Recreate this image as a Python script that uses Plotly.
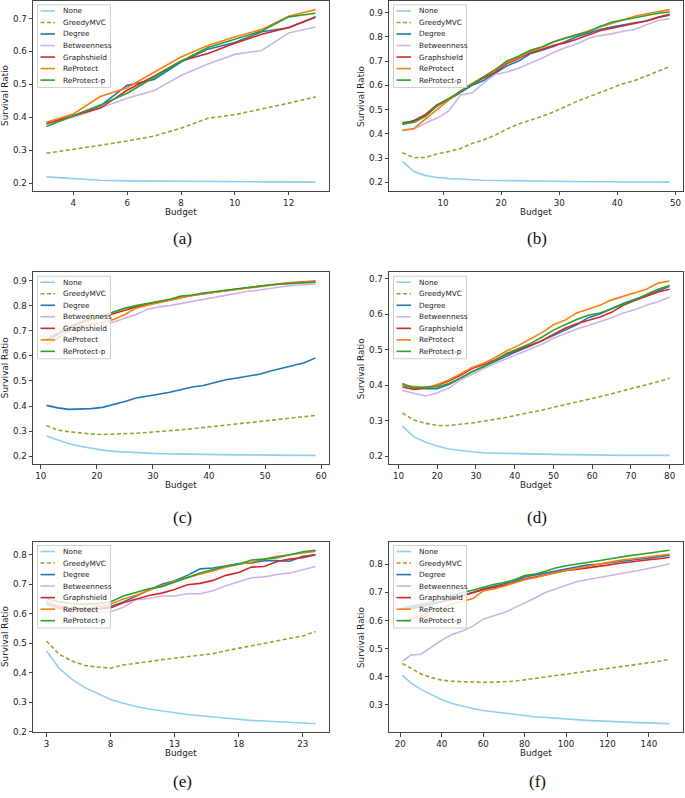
import plotly.graph_objects as go

# ---------------- data ----------------
methods = ["None", "GreedyMVC", "Degree", "Betweenness", "Graphshield", "ReProtect", "ReProtect-p"]

# (a)
budget_a = [3, 4, 5, 6, 7, 8, 9, 10, 11, 12, 13]
a_none = [0.219, 0.214, 0.209, 0.207, 0.206, 0.205, 0.205, 0.204, 0.204, 0.204, 0.203]
a_greedy = [0.291, 0.302, 0.315, 0.328, 0.343, 0.367, 0.397, 0.408, 0.425, 0.443, 0.462]
a_degree = [0.380, 0.405, 0.435, 0.497, 0.515, 0.568, 0.607, 0.627, 0.660, 0.672, 0.705]
a_betw = [0.378, 0.400, 0.428, 0.458, 0.481, 0.527, 0.562, 0.591, 0.603, 0.656, 0.674]
a_gshield = [0.381, 0.405, 0.428, 0.482, 0.525, 0.571, 0.594, 0.625, 0.652, 0.673, 0.704]
a_reprot = [0.385, 0.410, 0.463, 0.490, 0.537, 0.583, 0.618, 0.644, 0.667, 0.707, 0.727]
a_reprotp = [0.372, 0.405, 0.437, 0.473, 0.522, 0.570, 0.612, 0.638, 0.662, 0.705, 0.716]

# (b)
budget_b = [3, 5, 7, 9, 11, 13, 15, 17, 19, 21, 23, 25, 27, 29, 31, 33, 35, 37, 39, 41, 43, 45, 47, 49]
b_none = [0.287, 0.245, 0.228, 0.220, 0.216, 0.213, 0.211, 0.209, 0.208, 0.207, 0.206, 0.205,
          0.205, 0.204, 0.204, 0.204, 0.203, 0.203, 0.203, 0.202, 0.202, 0.202, 0.201, 0.201]
b_greedy = [0.322, 0.302, 0.303, 0.318, 0.327, 0.340, 0.360, 0.375, 0.395, 0.420, 0.440, 0.455,
            0.472, 0.490, 0.512, 0.533, 0.552, 0.570, 0.590, 0.607, 0.620, 0.640, 0.657, 0.677]
b_degree = [0.447, 0.452, 0.477, 0.518, 0.540, 0.570, 0.600, 0.620, 0.650, 0.680, 0.700, 0.730,
            0.745, 0.760, 0.780, 0.800, 0.815, 0.830, 0.840, 0.850, 0.858, 0.865, 0.880, 0.889]
b_betw = [0.413, 0.420, 0.445, 0.465, 0.495, 0.560, 0.568, 0.610, 0.645, 0.655, 0.670, 0.690,
          0.712, 0.735, 0.755, 0.770, 0.793, 0.805, 0.812, 0.823, 0.830, 0.850, 0.867, 0.875]
b_gshield = [0.441, 0.455, 0.480, 0.520, 0.545, 0.575, 0.605, 0.630, 0.655, 0.690, 0.710, 0.735,
             0.748, 0.765, 0.775, 0.790, 0.808, 0.825, 0.835, 0.845, 0.855, 0.865, 0.880, 0.893]
b_reprot = [0.415, 0.422, 0.462, 0.500, 0.540, 0.578, 0.608, 0.635, 0.665, 0.695, 0.715, 0.740,
            0.755, 0.778, 0.795, 0.808, 0.825, 0.840, 0.855, 0.870, 0.885, 0.895, 0.905, 0.912]
b_reprotp = [0.440, 0.448, 0.472, 0.515, 0.545, 0.575, 0.608, 0.638, 0.665, 0.700, 0.720, 0.745,
             0.758, 0.780, 0.795, 0.808, 0.820, 0.842, 0.860, 0.870, 0.880, 0.890, 0.897, 0.902]

# (c)
budget_c = [11, 13, 15, 17, 19, 21, 23, 25, 27, 29, 31, 33, 35, 37, 39, 41, 43, 45, 47, 49, 51, 53, 55, 57, 59]
c_none = [0.281, 0.266, 0.250, 0.240, 0.232, 0.225, 0.220, 0.217, 0.215, 0.213, 0.211, 0.210, 0.209,
          0.208, 0.208, 0.207, 0.207, 0.206, 0.206, 0.205, 0.205, 0.204, 0.204, 0.204, 0.204]
c_greedy = [0.323, 0.305, 0.298, 0.292, 0.289, 0.287, 0.288, 0.289, 0.292, 0.295, 0.298, 0.302, 0.306,
            0.310, 0.315, 0.320, 0.325, 0.330, 0.335, 0.340, 0.345, 0.350, 0.354, 0.358, 0.363]
c_degree = [0.403, 0.393, 0.387, 0.388, 0.390, 0.395, 0.405, 0.418, 0.432, 0.438, 0.447, 0.455, 0.465,
            0.476, 0.482, 0.493, 0.505, 0.512, 0.520, 0.527, 0.540, 0.551, 0.562, 0.573, 0.592]
c_betw = [0.665, 0.690, 0.710, 0.720, 0.725, 0.728, 0.735, 0.750, 0.765, 0.785, 0.795, 0.800, 0.810,
          0.817, 0.825, 0.833, 0.842, 0.850, 0.857, 0.862, 0.870, 0.875, 0.880, 0.882, 0.886]
c_gshield = [0.660, 0.685, 0.710, 0.730, 0.745, 0.755, 0.770, 0.782, 0.795, 0.805, 0.812, 0.822, 0.832,
             0.840, 0.848, 0.853, 0.860, 0.866, 0.872, 0.877, 0.883, 0.888, 0.892, 0.895, 0.898]
c_reprot = [0.645, 0.670, 0.700, 0.715, 0.725, 0.735, 0.745, 0.765, 0.790, 0.802, 0.812, 0.822, 0.830,
            0.840, 0.847, 0.853, 0.860, 0.865, 0.870, 0.875, 0.882, 0.887, 0.890, 0.893, 0.896]
c_reprotp = [0.665, 0.690, 0.715, 0.735, 0.750, 0.760, 0.775, 0.790, 0.800, 0.808, 0.815, 0.825, 0.838,
             0.842, 0.850, 0.856, 0.860, 0.866, 0.872, 0.878, 0.883, 0.886, 0.888, 0.890, 0.893]

# (d)
budget_d = [11, 14, 17, 20, 23, 26, 29, 32, 35, 38, 41, 44, 47, 50, 53, 56, 59, 62, 65, 68, 71, 74, 77, 80]
d_none = [0.285, 0.255, 0.240, 0.229, 0.221, 0.216, 0.213, 0.210, 0.209, 0.208, 0.207, 0.206,
          0.206, 0.205, 0.205, 0.205, 0.204, 0.204, 0.204, 0.203, 0.203, 0.203, 0.203, 0.203]
d_greedy = [0.322, 0.302, 0.293, 0.287, 0.287, 0.290, 0.294, 0.299, 0.304, 0.310, 0.317, 0.323,
            0.330, 0.338, 0.345, 0.352, 0.360, 0.368, 0.376, 0.384, 0.393, 0.402, 0.410, 0.420]
d_degree = [0.400, 0.393, 0.390, 0.390, 0.402, 0.420, 0.438, 0.453, 0.468, 0.482, 0.497, 0.510,
            0.525, 0.540, 0.555, 0.570, 0.590, 0.600, 0.615, 0.630, 0.642, 0.652, 0.665, 0.678]
d_betw = [0.385, 0.378, 0.370, 0.378, 0.392, 0.415, 0.432, 0.447, 0.462, 0.475, 0.488, 0.500,
          0.515, 0.532, 0.545, 0.558, 0.568, 0.578, 0.590, 0.603, 0.612, 0.625, 0.635, 0.648]
d_gshield = [0.395, 0.388, 0.392, 0.400, 0.412, 0.428, 0.447, 0.458, 0.472, 0.488, 0.500, 0.512,
             0.525, 0.543, 0.560, 0.573, 0.583, 0.592, 0.605, 0.625, 0.638, 0.650, 0.662, 0.670]
d_reprot = [0.400, 0.397, 0.393, 0.402, 0.415, 0.432, 0.450, 0.462, 0.478, 0.497, 0.512, 0.530,
            0.548, 0.570, 0.583, 0.603, 0.615, 0.625, 0.640, 0.650, 0.660, 0.670, 0.687, 0.693]
d_reprotp = [0.405, 0.392, 0.395, 0.395, 0.405, 0.420, 0.438, 0.452, 0.470, 0.490, 0.503, 0.517,
             0.535, 0.555, 0.570, 0.585, 0.597, 0.603, 0.615, 0.627, 0.640, 0.655, 0.670, 0.680]

# (e)
budget_e = [3, 4, 5, 6, 7, 8, 9, 10, 11, 12, 13, 14, 15, 16, 17, 18, 19, 20, 21, 22, 23, 24]
e_none = [0.475, 0.415, 0.378, 0.350, 0.330, 0.310, 0.297, 0.286, 0.278, 0.271, 0.265, 0.259, 0.255,
          0.251, 0.247, 0.242, 0.239, 0.237, 0.235, 0.232, 0.231, 0.228]
e_greedy = [0.508, 0.463, 0.440, 0.425, 0.420, 0.416, 0.427, 0.432, 0.438, 0.445, 0.450, 0.456, 0.460,
            0.465, 0.475, 0.483, 0.491, 0.500, 0.508, 0.516, 0.525, 0.540]
e_degree = [0.640, 0.625, 0.618, 0.615, 0.617, 0.625, 0.640, 0.660, 0.680, 0.700, 0.712, 0.730, 0.752,
            0.755, 0.762, 0.770, 0.772, 0.780, 0.780, 0.778, 0.795, 0.800]
e_betw = [0.632, 0.615, 0.608, 0.603, 0.605, 0.607, 0.622, 0.648, 0.652, 0.660, 0.660, 0.668, 0.668,
          0.678, 0.695, 0.708, 0.722, 0.725, 0.733, 0.738, 0.748, 0.760]
e_gshield = [0.632, 0.620, 0.615, 0.613, 0.615, 0.620, 0.637, 0.650, 0.662, 0.670, 0.682, 0.698, 0.703,
             0.713, 0.730, 0.740, 0.758, 0.760, 0.777, 0.785, 0.790, 0.800]
e_reprot = [0.643, 0.625, 0.620, 0.618, 0.625, 0.632, 0.650, 0.663, 0.680, 0.695, 0.710, 0.722, 0.735,
            0.745, 0.758, 0.768, 0.775, 0.785, 0.795, 0.800, 0.807, 0.812]
e_reprotp = [0.652, 0.640, 0.635, 0.632, 0.635, 0.640, 0.660, 0.672, 0.685, 0.692, 0.708, 0.723, 0.738,
             0.750, 0.762, 0.768, 0.782, 0.785, 0.790, 0.800, 0.810, 0.815]

# (f)
budget_f = [21, 25, 30, 35, 40, 45, 50, 55, 60, 65, 70, 75, 80, 85, 90, 95, 100, 105, 110, 115, 120,
            125, 130, 135, 140, 145, 150]
f_none = [0.405, 0.378, 0.355, 0.337, 0.318, 0.305, 0.295, 0.287, 0.280, 0.275, 0.270, 0.266, 0.262,
          0.258, 0.255, 0.252, 0.249, 0.247, 0.245, 0.243, 0.241, 0.240, 0.238, 0.237, 0.236, 0.234, 0.233]
f_greedy = [0.447, 0.430, 0.410, 0.397, 0.388, 0.384, 0.382, 0.380, 0.380, 0.381, 0.382, 0.384, 0.389,
            0.394, 0.399, 0.403, 0.408, 0.414, 0.419, 0.423, 0.428, 0.433, 0.438, 0.443, 0.448, 0.455, 0.462]
f_degree = [0.640, 0.645, 0.652, 0.660, 0.668, 0.678, 0.690, 0.700, 0.712, 0.722, 0.730, 0.740, 0.755,
            0.762, 0.770, 0.778, 0.785, 0.790, 0.797, 0.800, 0.805, 0.810, 0.815, 0.818, 0.822, 0.827, 0.832]
f_betw = [0.455, 0.477, 0.480, 0.505, 0.530, 0.550, 0.563, 0.580, 0.605, 0.617, 0.628, 0.645, 0.662,
          0.680, 0.700, 0.712, 0.725, 0.738, 0.745, 0.752, 0.760, 0.765, 0.772, 0.778, 0.785, 0.793, 0.802]
f_gshield = [0.640, 0.642, 0.650, 0.658, 0.665, 0.675, 0.688, 0.700, 0.710, 0.718, 0.725, 0.735, 0.748,
             0.755, 0.762, 0.770, 0.778, 0.782, 0.787, 0.790, 0.797, 0.803, 0.808, 0.812, 0.816, 0.820, 0.825]
f_reprot = [0.600, 0.605, 0.617, 0.630, 0.645, 0.658, 0.668, 0.678, 0.705, 0.712, 0.722, 0.733, 0.745,
            0.752, 0.762, 0.770, 0.778, 0.785, 0.792, 0.800, 0.807, 0.813, 0.818, 0.822, 0.827, 0.832, 0.836]
f_reprotp = [0.645, 0.650, 0.658, 0.667, 0.678, 0.690, 0.700, 0.708, 0.718, 0.728, 0.735, 0.745, 0.760,
             0.765, 0.775, 0.787, 0.795, 0.800, 0.805, 0.812, 0.818, 0.825, 0.830, 0.835, 0.840, 0.845, 0.850]

xticks_a = [4, 6, 8, 10, 12]
xticks_b = [10, 20, 30, 40, 50]
xticks_c = [10, 20, 30, 40, 50, 60]
xticks_d = [10, 20, 30, 40, 50, 60, 70, 80]
xticks_e = [3, 8, 13, 18, 23]
xticks_f = [20, 40, 60, 80, 100, 120, 140]
yticks_a = [0.2, 0.3, 0.4, 0.5, 0.6, 0.7]
yticks_b = [0.2, 0.3, 0.4, 0.5, 0.6, 0.7, 0.8, 0.9]
yticks_c = [0.2, 0.3, 0.4, 0.5, 0.6, 0.7, 0.8, 0.9]
yticks_d = [0.2, 0.3, 0.4, 0.5, 0.6, 0.7]
yticks_e = [0.2, 0.3, 0.4, 0.5, 0.6, 0.7, 0.8]
yticks_f = [0.2, 0.3, 0.4, 0.5, 0.6, 0.7, 0.8]
panel_labels = ["(a)", "(b)", "(c)", "(d)", "(e)", "(f)"]

# ---------------- styling ----------------
colors = ["#8fd0ee", "#a0a032", "#1f77b4", "#cdb5e3", "#d62728", "#ff7f0e", "#2ca02c"]
dashes = ["solid", "4px,2.5px", "solid", "solid", "solid", "solid", "solid"]

W, H = 685, 798
# panel pixel boxes (left, right, top, bottom)
cols = [(33, 329), (389, 683)]
rows = [(1, 192), (274, 467), (545, 737)]

panels = [
    (budget_a, [a_none, a_greedy, a_degree, a_betw, a_gshield, a_reprot, a_reprotp], xticks_a, yticks_a),
    (budget_b, [b_none, b_greedy, b_degree, b_betw, b_gshield, b_reprot, b_reprotp], xticks_b, yticks_b),
    (budget_c, [c_none, c_greedy, c_degree, c_betw, c_gshield, c_reprot, c_reprotp], xticks_c, yticks_c),
    (budget_d, [d_none, d_greedy, d_degree, d_betw, d_gshield, d_reprot, d_reprotp], xticks_d, yticks_d),
    (budget_e, [e_none, e_greedy, e_degree, e_betw, e_gshield, e_reprot, e_reprotp], xticks_e, yticks_e),
    (budget_f, [f_none, f_greedy, f_degree, f_betw, f_gshield, f_reprot, f_reprotp], xticks_f, yticks_f),
]


def px(x):
    return x / W


def py(y):
    return 1 - y / H


fig = go.Figure()
layout = {}
shapes = []
annotations = []
FONT = "DejaVu Sans"
tickfont = dict(family=FONT, size=8.7, color="#222")

for i, (xs, series, xt, yt) in enumerate(panels):
    r, c = divmod(i, 2)
    L, R = cols[c]
    T, B = rows[r]
    sfx = "" if i == 0 else str(i + 1)
    for k, name in enumerate(methods):
        fig.add_trace(go.Scatter(
            x=xs, y=series[k], mode="lines", name=name, showlegend=False,
            line=dict(color=colors[k], width=1.6, dash=dashes[k]),
            xaxis="x" + sfx, yaxis="y" + sfx,
        ))
    xmin, xmax = min(xs), max(xs)
    allv = [v for s in series for v in s]
    ymin, ymax = min(allv), max(allv)
    xm = 0.05 * (xmax - xmin)
    ym = 0.05 * (ymax - ymin)
    axis_common = dict(showgrid=False, zeroline=False, showline=True, mirror=True,
                       linecolor="#444", linewidth=1, ticks="outside", ticklen=3.5,
                       tickwidth=0.8, tickcolor="#444", tickfont=tickfont)
    layout["xaxis" + sfx] = dict(domain=[px(L), px(R)], range=[xmin - xm, xmax + xm],
                                 anchor="y" + sfx, tickvals=xt, **axis_common)
    layout["yaxis" + sfx] = dict(domain=[py(B), py(T)], range=[ymin - ym, ymax + ym],
                                 anchor="x" + sfx, tickvals=yt, tickformat=".1f", **axis_common)
    # axis titles
    annotations.append(dict(text="Budget", x=px((L + R) / 2), y=py(B + 21), xref="paper", yref="paper",
                            showarrow=False, xanchor="center", yanchor="middle",
                            font=dict(family=FONT, size=8.8, color="#222")))
    annotations.append(dict(text="Survival Ratio", x=px(L - 28), y=py((T + B) / 2), xref="paper",
                            yref="paper", showarrow=False, textangle=-90, xanchor="center",
                            yanchor="middle", font=dict(family=FONT, size=8.8, color="#222")))
    # panel label
    lab_y = [240, 521, 786][r]
    annotations.append(dict(text=panel_labels[i], x=px((L + R) / 2 + 1), y=py(lab_y), xref="paper",
                            yref="paper", showarrow=False, xanchor="center", yanchor="middle",
                            font=dict(family="Liberation Serif", size=17, color="#111")))
    # legend box (manual)
    bx0, by0 = L + 4.5, T + 4
    bx1, by1 = bx0 + 73, by0 + 83
    shapes.append(dict(type="rect", xref="paper", yref="paper", x0=px(bx0), x1=px(bx1),
                       y0=py(by1), y1=py(by0), fillcolor="rgba(255,255,255,0.8)",
                       line=dict(color="#d0d0d0", width=1), layer="above"))
    for k, name in enumerate(methods):
        yy = by0 + 6 + k * 11.6
        shapes.append(dict(type="line", xref="paper", yref="paper", x0=px(bx0 + 3), x1=px(bx0 + 17.5),
                           y0=py(yy), y1=py(yy), line=dict(color=colors[k], width=1.6, dash=dashes[k]),
                           layer="above"))
        annotations.append(dict(text=name, x=px(bx0 + 23.5), y=py(yy), xref="paper", yref="paper",
                                showarrow=False, xanchor="left", yanchor="middle",
                                font=dict(family=FONT, size=7.3, color="#222")))

fig.update_layout(
    width=W, height=H, margin=dict(l=0, r=0, t=0, b=0),
    paper_bgcolor="white", plot_bgcolor="white", showlegend=False,
    shapes=shapes, annotations=annotations, **layout,
)
fig.write_html("out.html", config={"displayModeBar": False},
               post_script="document.body.style.margin='0';document.body.style.overflow='hidden';")
